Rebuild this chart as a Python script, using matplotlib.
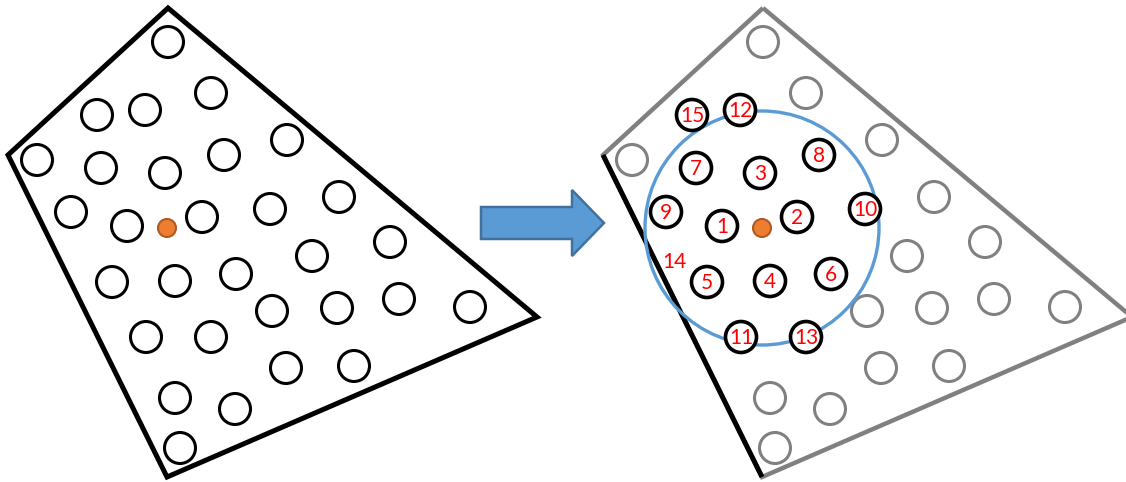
import numpy as np
import matplotlib.pyplot as plt
from matplotlib.patches import Circle, Polygon

# Outline of the field, pixel coords (y grows downward)
outline_x = [168, 8, 167, 537]
outline_y = [8, 155, 477, 317]

# Holes in the left panel
hole_x = [168, 97, 145, 211, 37, 101, 165, 224, 287, 71, 127, 202, 270, 339,
          112, 175, 236, 312, 390, 272, 337, 399, 470, 146, 211, 286, 354,
          175, 235, 180]
hole_y = [42, 115, 110, 93, 160, 168, 173, 155, 140, 212, 226, 217, 209, 197,
          282, 281, 274, 256, 242, 311, 308, 299, 307, 337, 337, 368, 366,
          398, 409, 448]
# Number given to each hole in the right panel (0 = outside the search circle)
hole_num = [0, 15, 12, 0, 0, 7, 3, 8, 0, 9, 1, 2, 10, 0,
            5, 4, 6, 0, 0, 0, 0, 0, 0, 11, 13, 0, 0,
            0, 0, 0]

center = (167, 228)      # the orange point
search_r = 117           # radius of the search circle
missing_label = ("14", 79, 262)   # label without a hole, relative to left panel
shift = 595              # offset of the right panel

BLUE = "#5B9BD5"
ORANGE = "#ED7D31"
GREY = "#808080"

fig = plt.figure(figsize=(11.26, 4.82), dpi=100)
ax = fig.add_axes([0, 0, 1, 1])
ax.set_xlim(0, 1126)
ax.set_ylim(482, 0)
ax.axis("off")

r = 15.5

# ---- left panel
ax.add_patch(Polygon(np.column_stack([outline_x, outline_y]), closed=True,
                     fill=False, ec="black", lw=3.6, joinstyle="miter"))
for x, y in zip(hole_x, hole_y):
    ax.add_patch(Circle((x, y), r, fc="white", ec="black", lw=2.2))
ax.add_patch(Circle(center, 9, fc=ORANGE, ec="#AE5A21", lw=1.5, zorder=5))

# ---- arrow
ax_l, ax_r, head_x, tip_x = 481, 572, 572, 604
cy, half_w, half_h = 223, 16, 33
arrow = [(ax_l, cy - half_w), (head_x, cy - half_w), (head_x, cy - half_h),
         (tip_x, cy), (head_x, cy + half_h), (head_x, cy + half_w),
         (ax_l, cy + half_w)]
ax.add_patch(Polygon(arrow, closed=True, fc=BLUE, ec="#41719C", lw=1.8))

# ---- right panel
ox = np.array(outline_x) + shift
oy = np.array(outline_y)
ax.add_patch(Polygon(np.column_stack([ox, oy]), closed=True,
                     fill=False, ec=GREY, lw=3.2, joinstyle="miter"))
ax.plot(ox[1:3], oy[1:3], color="black", lw=3.6, solid_capstyle="butt", zorder=3)

ax.add_patch(Circle((center[0] + shift, center[1]), search_r, fill=False,
                    ec=BLUE, lw=2.4, zorder=4))

for x, y, n in zip(hole_x, hole_y, hole_num):
    if n == 0:
        ax.add_patch(Circle((x + shift, y), r, fc="white", ec=GREY, lw=2.2, zorder=2))
    else:
        ax.add_patch(Circle((x + shift, y), r, fc="white", ec="black", lw=2.6, zorder=6))
        ax.text(x + shift, y + 1, str(n), color="#FF0000", fontsize=15,
                family="Lato", ha="center", va="center", zorder=7)

lbl, lx, ly = missing_label
ax.text(lx + shift, ly, lbl, color="#FF0000", fontsize=15, family="Lato",
        ha="center", va="center", zorder=7)
ax.add_patch(Circle((center[0] + shift, center[1]), 9, fc=ORANGE, ec="#AE5A21",
                    lw=1.5, zorder=8))

fig.savefig("out.png", dpi=100)
